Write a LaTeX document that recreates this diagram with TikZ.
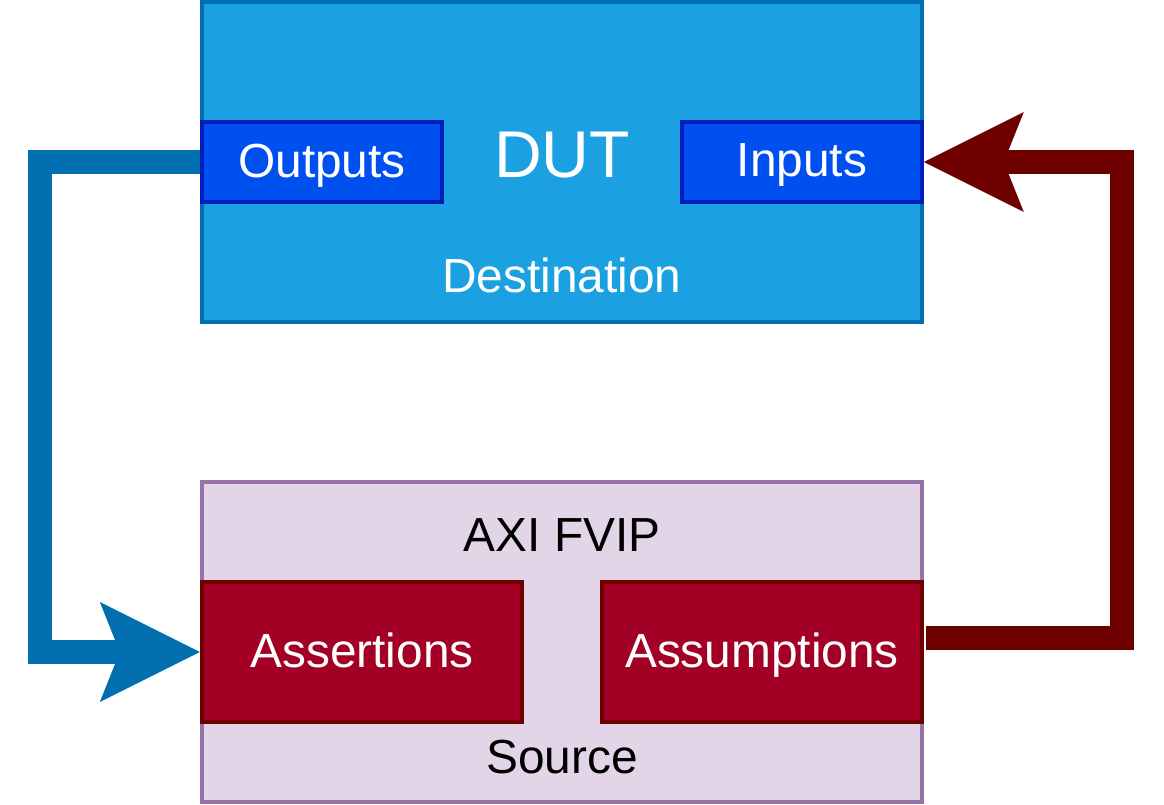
\documentclass[tikz,border=0pt]{standalone}
\usepackage{fontspec}
\setmainfont{Liberation Sans}
\usepackage{tikz}
\usetikzlibrary{positioning,arrows.meta}
\usepackage{xcolor}

\definecolor{dutfill}{HTML}{1BA1E2}
\definecolor{dutline}{HTML}{006EAF}
\definecolor{portfill}{HTML}{0050EF}
\definecolor{portline}{HTML}{001DBC}
\definecolor{fvipfill}{HTML}{E1D5E7}
\definecolor{fvipline}{HTML}{9673A6}
\definecolor{chkfill}{HTML}{A20025}
\definecolor{chkline}{HTML}{6F0000}

\tikzset{
  bigbox/.style={shape=rectangle, line width=3pt, minimum width=18cm, minimum height=8cm, inner sep=0pt},
  portbox/.style={shape=rectangle, draw=portline, fill=portfill, line width=2.5pt, minimum width=6cm, minimum height=2cm, inner sep=0pt, text=white, text depth=0.21em, font=\fontsize{34}{40}\selectfont},
  chkbox/.style={shape=rectangle, draw=chkline, fill=chkfill, line width=3pt, minimum width=8cm, minimum height=3.5cm, inner sep=0pt, text=white, text depth=0.21em, font=\fontsize{34}{40}\selectfont},
  lbl/.style={inner sep=0pt, font=\fontsize{34}{40}\selectfont},
  flow/.style={line width=17pt, -{Stealth[length=2.5cm, width=2.5cm, inset=0.5cm, line width=0pt]}}
}

\begin{document}
\begin{tikzpicture}[x=0.025cm, y=-0.025cm]
		\useasboundingbox (0,0) rectangle (1164,804);
		
		\node[bigbox, draw=dutline, fill=dutfill] (dut) at (562, 162) {};
		\node[lbl, text=white, font=\fontsize{47}{54}\selectfont] (dutname) at (562, 155) {DUT};
		\node[lbl, text=white] (dest) at (562, 275) {Destination};
		\node[portbox] (outs) at (322, 162) {Outputs};
		\node[portbox] (ins) at (802, 162) {Inputs};
		
		\node[bigbox, draw=fvipline, fill=fvipfill] (fvip) at (562, 642) {};
		\node[lbl] (fvipname) at (562, 535) {AXI FVIP};
		\node[lbl] (src) at (562, 757) {Source};
		\node[chkbox] (asrt) at (362, 652) {Assertions};
		\node[chkbox] (asmp) at (762, 652) {Assumptions};
		
		\coordinate (asmpout) at (926, 638);
		
		\draw[flow, draw=dutline] (outs.west) -- ++(-160, 0) |- (asrt.west);
		\draw[flow, draw=chkline] (asmpout) -- ++(196, 0) |- (ins.east);
		\end{tikzpicture}
\end{document}
